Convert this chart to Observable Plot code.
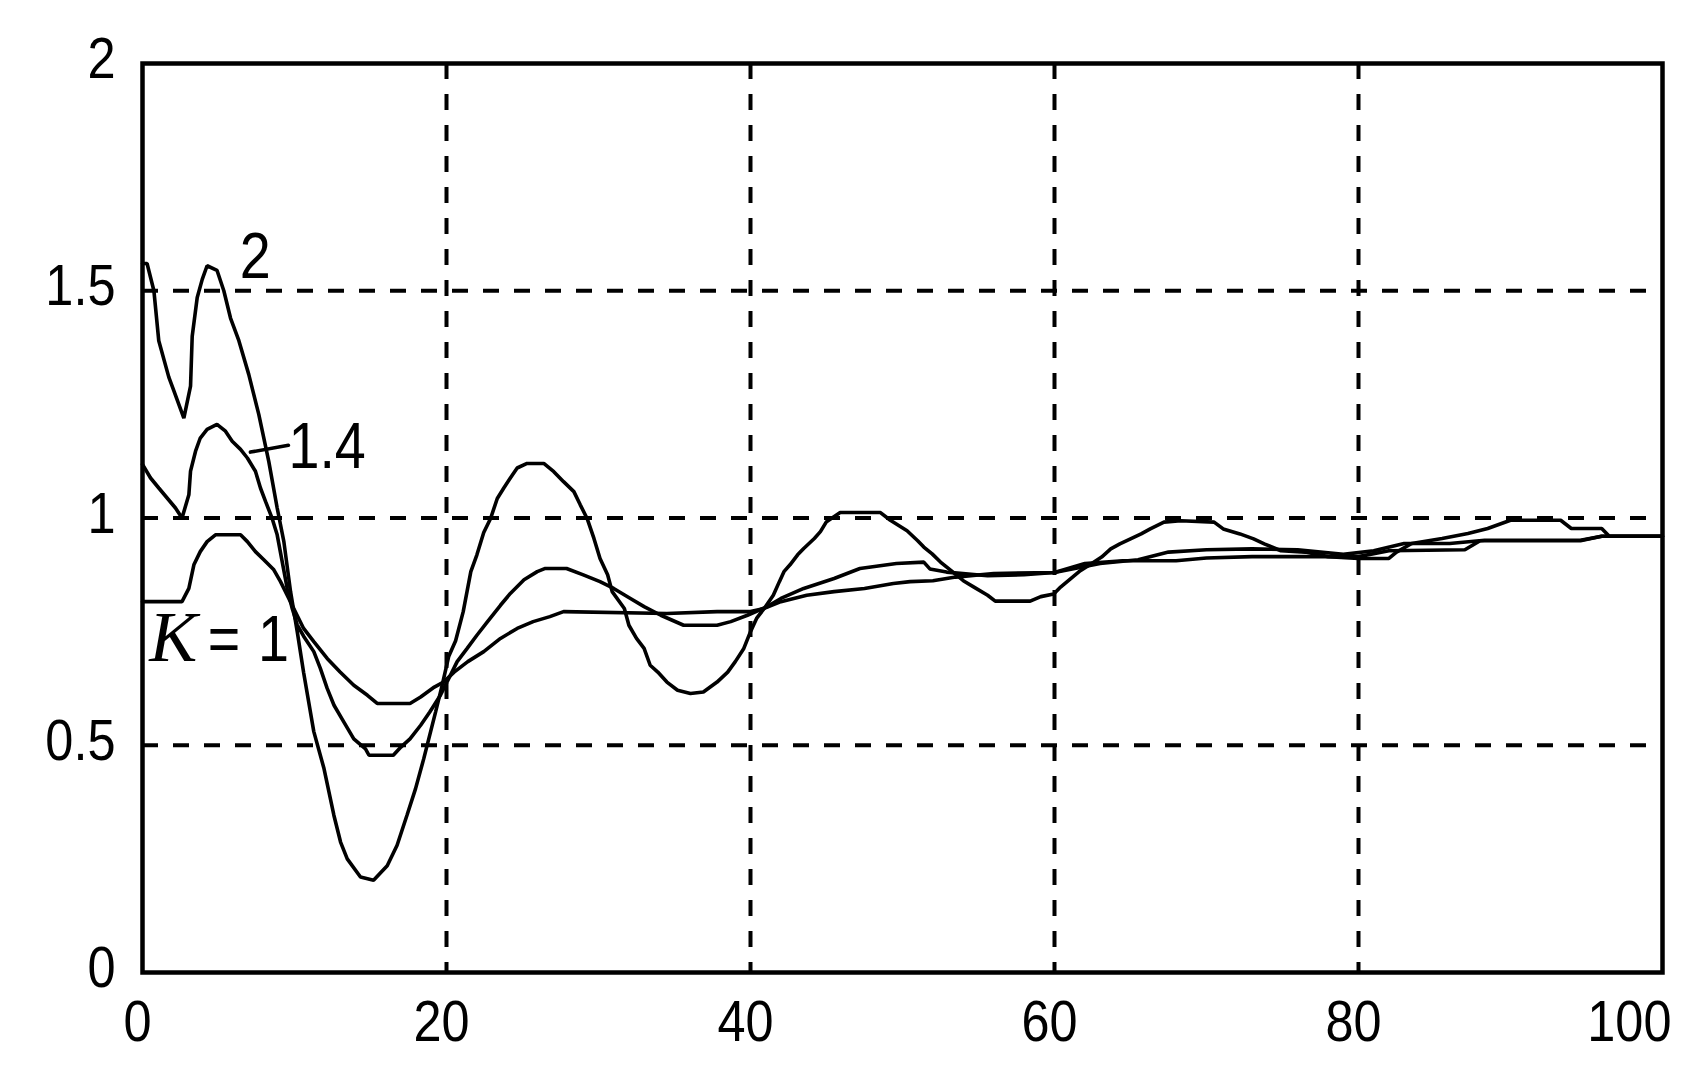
<!DOCTYPE html>
<html>
<head>
<meta charset="utf-8">
<script src="https://cdn.jsdelivr.net/npm/d3@7"></script>
<script src="https://cdn.jsdelivr.net/npm/@observablehq/plot@0.6"></script>
<style>
  html, body { margin: 0; padding: 0; background: #fff; }
  svg { display: block; }
</style>
</head>
<body>
<div id="chart"></div>
<script>
// ---- data ----
const xTicks = [0, 20, 40, 60, 80, 100];
const yTicks = [0, 0.5, 1, 1.5, 2];
const xTickLabels = ["0", "20", "40", "60", "80", "100"];
const yTickLabels = ["0", "0.5", "1", "1.5", "2"];
const xGrid = [20, 40, 60, 80];
const yGrid = [0.5, 1, 1.5];

// K = 2
const k2T = [0, 0.3, 0.75, 1.07, 1.73, 2.06, 2.72, 3.16, 3.27, 3.6, 3.93, 4.25, 4.9, 5.35, 5.79, 6.34, 6.99, 7.65, 8.31, 8.86, 9.3, 9.74, 10.18, 10.6, 11.27, 11.93, 12.59, 13.03, 13.47, 14.34, 15.2, 16.1, 16.75, 17.4, 17.96, 18.5, 19.28, 19.7, 20.15, 20.6, 21.1, 21.6, 22.0, 22.45, 22.9, 23.34, 23.77, 24.2, 24.65, 25.3, 26.4, 27.06, 27.7, 28.38, 28.8, 29.25, 29.7, 30.1, 30.6, 30.9, 31.7, 32.0, 32.5, 33.0, 33.4, 33.9, 34.5, 35.2, 36.05, 36.9, 37.8, 38.5, 39.0, 39.56, 40.0, 40.4, 40.9, 41.5, 41.9, 42.2, 42.6, 43.1, 43.5, 44.2, 44.6, 45.0, 45.9, 48.55, 49.2, 50.3, 51.0, 51.4, 51.95, 52.5, 53.2, 54.0, 54.7, 55.6, 56.1, 58.4, 59.1, 59.95, 60.4, 61.05, 61.7, 62.4, 63.1, 63.7, 64.3, 65.0, 65.7, 66.3, 67.2, 68.3, 70.5, 71.1, 72.2, 73.1, 73.8, 74.9, 76.5, 78, 80, 82, 82.5, 83.5, 85.5, 87.2, 88.5, 90, 93.3, 94, 96, 96.5, 100];
const k2V = [1.56, 1.56, 1.50, 1.39, 1.31, 1.28, 1.22, 1.29, 1.40, 1.485, 1.525, 1.555, 1.545, 1.50, 1.44, 1.39, 1.316, 1.228, 1.124, 1.022, 0.948, 0.838, 0.75, 0.66, 0.53, 0.45, 0.346, 0.287, 0.25, 0.21, 0.203, 0.235, 0.28, 0.346, 0.404, 0.47, 0.573, 0.63, 0.696, 0.73, 0.794, 0.882, 0.919, 0.968, 0.999, 1.043, 1.066, 1.088, 1.11, 1.12, 1.12, 1.102, 1.08, 1.058, 1.029, 0.999, 0.955, 0.911, 0.875, 0.838, 0.801, 0.764, 0.735, 0.713, 0.676, 0.661, 0.639, 0.621, 0.614, 0.617, 0.639, 0.661, 0.684, 0.713, 0.75, 0.779, 0.801, 0.83, 0.86, 0.882, 0.897, 0.919, 0.933, 0.955, 0.97, 0.992, 1.012, 1.012, 0.995, 0.972, 0.95, 0.936, 0.921, 0.903, 0.884, 0.862, 0.848, 0.83, 0.817, 0.817, 0.827, 0.833, 0.848, 0.866, 0.884, 0.899, 0.914, 0.932, 0.943, 0.954, 0.965, 0.976, 0.991, 0.994, 0.991, 0.976, 0.965, 0.954, 0.943, 0.928, 0.925, 0.915, 0.911, 0.911, 0.925, 0.944, 0.955, 0.966, 0.977, 0.995, 0.995, 0.977, 0.977, 0.96, 0.96];

// K = 1.4
const k14T = [0, 0.53, 1.07, 1.62, 2.17, 2.6, 3.05, 3.16, 3.49, 3.8, 4.25, 4.9, 5.46, 5.9, 6.45, 6.9, 7.43, 7.76, 8.1, 8.53, 8.86, 9.19, 9.52, 9.85, 10.18, 10.6, 11.27, 11.7, 12.15, 12.6, 13.25, 13.9, 14.67, 14.9, 16.5, 17.0, 17.6, 18.3, 18.9, 19.6, 20.15, 20.7, 21.36, 22.0, 22.7, 23.55, 24.2, 25.1, 25.97, 26.5, 27.9, 29.0, 30.1, 31.0, 32.1, 33.0, 34.1, 35.6, 37.8, 38.7, 39.8, 41.1, 42.0, 43.5, 45.5, 47.2, 49.6, 51.4, 51.8, 52.9, 55.6, 58, 60, 61.5, 63, 65.5, 67.5, 70, 73, 76, 79, 81, 83, 86, 88.3, 94.6, 96, 100];
const k14V = [1.118, 1.088, 1.066, 1.044, 1.022, 1.0, 1.051, 1.103, 1.147, 1.176, 1.195, 1.206, 1.191, 1.169, 1.151, 1.132, 1.103, 1.066, 1.036, 0.999, 0.963, 0.904, 0.845, 0.801, 0.765, 0.74, 0.706, 0.669, 0.625, 0.588, 0.551, 0.514, 0.492, 0.478, 0.478, 0.496, 0.514, 0.544, 0.573, 0.61, 0.647, 0.684, 0.713, 0.742, 0.772, 0.808, 0.834, 0.864, 0.882, 0.889, 0.889, 0.875, 0.86, 0.845, 0.823, 0.805, 0.786, 0.764, 0.764, 0.772, 0.786, 0.805, 0.823, 0.845, 0.867, 0.889, 0.9, 0.903, 0.888, 0.881, 0.873, 0.875, 0.88, 0.89, 0.9, 0.908, 0.925, 0.93, 0.932, 0.93, 0.92, 0.928, 0.944, 0.944, 0.951, 0.951, 0.96, 0.96];

// K = 1
const k1T = [0, 2.6, 3.05, 3.38, 3.8, 4.25, 4.8, 6.45, 6.9, 7.43, 7.98, 8.64, 9.08, 9.52, 9.95, 10.6, 11.27, 12.15, 13.0, 13.9, 14.8, 15.44, 17.6, 18.3, 19.2, 19.8, 20.5, 21.4, 22.45, 23.55, 24.65, 25.7, 26.8, 27.7, 34.5, 37.8, 40, 40.9, 42, 43.7, 45.5, 47.5, 49.4, 50.5, 52, 53.5, 56, 60, 62, 64.5, 68, 70, 73, 76, 80, 82, 87, 88, 94.6, 96, 100];
const k1V = [0.816, 0.816, 0.845, 0.897, 0.926, 0.948, 0.963, 0.963, 0.948, 0.926, 0.908, 0.886, 0.86, 0.83, 0.801, 0.757, 0.728, 0.691, 0.661, 0.632, 0.61, 0.592, 0.592, 0.606, 0.628, 0.639, 0.661, 0.684, 0.706, 0.735, 0.757, 0.772, 0.783, 0.794, 0.79, 0.794, 0.794, 0.801, 0.816, 0.83, 0.838, 0.845, 0.856, 0.86, 0.862, 0.87, 0.878, 0.88, 0.9, 0.906, 0.906, 0.912, 0.915, 0.915, 0.915, 0.928, 0.93, 0.95, 0.95, 0.96, 0.96];

// curve annotations (text, anchor in data coordinates)
const labelText = ["2", "1.4", "=", "1"];
const labelX = [6.4, 9.6, 4.3, 7.6];
const labelY = [1.529, 1.109, 0.686, 0.686];
const kLabel = {text: "K", x: 0.45, y: 0.686};
const leaderX = [7.1, 9.6];
const leaderY = [1.145, 1.16];

// ---- build tables ----
const toRows = (T, V) => T.map((t, i) => ({t, v: V[i]}));
const series = [toRows(k2T, k2V), toRows(k14T, k14V), toRows(k1T, k1V)];
const labels = labelText.map((s, i) => ({s, x: labelX[i], y: labelY[i]}));
const xTickRows = xTicks.map((x, i) => ({x, s: xTickLabels[i]}));
const yTickRows = yTicks.map((y, i) => ({y, s: yTickLabels[i]}));

const FONT = "'Liberation Sans', Arial, sans-serif";
const dash = "16,15";

const chart = Plot.plot({
  width: 1703,
  height: 1072,
  marginLeft: 142,
  marginRight: 41,
  marginTop: 63,
  marginBottom: 100,
  style: {background: "#fff", fontFamily: FONT},
  x: {domain: [0, 100], axis: null},
  y: {domain: [0, 2], axis: null},
  marks: [
    Plot.ruleX(xGrid, {stroke: "#000", strokeWidth: 4, strokeDasharray: dash}),
    Plot.ruleY(yGrid, {stroke: "#000", strokeWidth: 4, strokeDasharray: dash}),
    ...series.map(rows => Plot.line(rows, {x: "t", y: "v", stroke: "#000", strokeWidth: 3.6, strokeLinejoin: "miter"})),
    Plot.line(leaderX.map((x, i) => ({x, y: leaderY[i]})), {x: "x", y: "y", stroke: "#000", strokeWidth: 3.6}),
    Plot.frame({stroke: "#000", strokeWidth: 4.5}),
    // curve labels
    Plot.text(labels, {x: "x", y: "y", text: "s", textAnchor: "start", lineAnchor: "bottom", fontSize: 64, fill: "#000", className: "squeeze"}),
    Plot.text([kLabel], {x: "x", y: "y", text: "text", textAnchor: "start", lineAnchor: "bottom", fontSize: 72, fontStyle: "italic", fontFamily: "'Liberation Serif', serif", fill: "#000"}),
    // x tick labels
    Plot.text(xTickRows.slice(0, -1), {x: "x", text: "s", frameAnchor: "bottom", lineAnchor: "middle", dy: 50, dx: -5, fontSize: 58, fill: "#000", className: "squeeze"}),
    Plot.text(xTickRows.slice(-1), {x: "x", text: "s", frameAnchor: "bottom", lineAnchor: "middle", textAnchor: "end", dy: 50, dx: 9, fontSize: 58, fill: "#000", className: "squeeze"}),
    // y tick labels
    Plot.text(yTickRows, {y: "y", text: "s", frameAnchor: "left", textAnchor: "end", lineAnchor: "middle", dx: -27, dy: -4, fontSize: 58, fill: "#000", className: "squeeze"})
  ]
});
document.getElementById("chart").appendChild(chart);
// narrow the glyphs a little, like the reference's condensed bitmap font
chart.querySelectorAll(".squeeze text").forEach(t => {
  const len = t.getComputedTextLength();
  if (len > 0) {
    t.setAttribute("textLength", (len * 0.87).toFixed(1));
    t.setAttribute("lengthAdjust", "spacingAndGlyphs");
  }
});
</script>
</body>
</html>
